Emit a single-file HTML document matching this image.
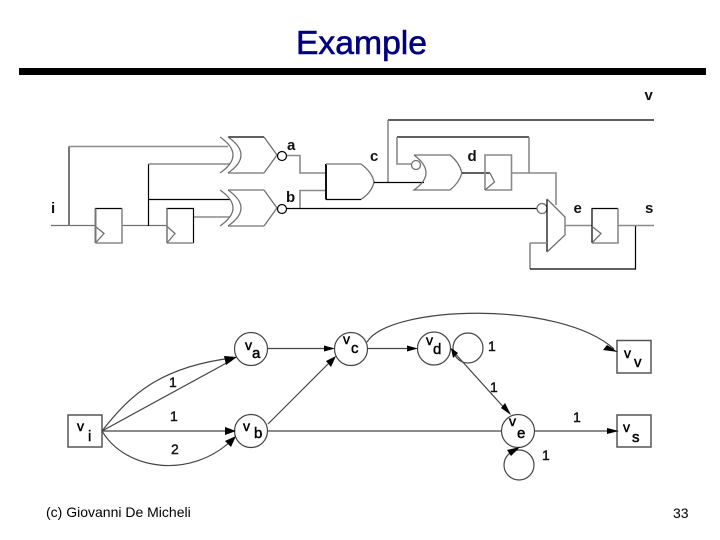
<!DOCTYPE html>
<html>
<head>
<meta charset="utf-8">
<style>
html,body{margin:0;padding:0;background:#fff;width:720px;height:540px;overflow:hidden}
svg{display:block}
text{font-family:"Liberation Sans",sans-serif}
.g{stroke:#8a8a8a;fill:none;stroke-width:1.6}
.t{stroke:#707070;fill:none;stroke-width:1.3}
.k{stroke:#000;fill:none;stroke-width:1.2}
.K{stroke:#777;fill:none;stroke-width:2}
.e{stroke:#444;fill:none;stroke-width:1.2}
.l{font-size:15px;font-weight:bold;fill:#111}
.n{font-size:14px;fill:#000;stroke:#000;stroke-width:.45px}
.s{font-size:15px;fill:#000;stroke:#000;stroke-width:.45px}
.w{font-size:14px;fill:#111;stroke:#111;stroke-width:.4px}
.h{fill:#000080;stroke:#000080;stroke-width:.6px}
</style>
</head>
<body>
<svg width="720" height="540" viewBox="0 0 720 540" xmlns="http://www.w3.org/2000/svg">
<text class="h" x="361.500" y="54" text-anchor="middle" font-size="33.700">Example</text>
<rect x="19" y="68" width="687" height="7" fill="#000"/>

<!-- circuit wires -->
<path class="t" d="M51 225.500H95M122 225.500H167"/>
<path class="K" d="M69 226V146.500"/>
<path class="g" d="M69 146.500H228"/>
<path class="k" d="M148.500 226V164"/>
<path class="g" d="M148.500 164H230"/>
<path class="k" d="M148.500 199.500H230"/>
<path class="g" d="M194 217H230"/>

<!-- flip flops -->
<path class="k" d="M95.500 243V208.500H122"/><path class="g" d="M122 208.500V243H95.500"/><path class="K" d="M95.500 208.500V243"/>
<path class="t" d="M95.500 226.500L104 233.500L95.500 243"/>
<path class="k" d="M167 243V208.500H193.500V243"/><path class="g" d="M167 243H193.500M167 208.500V243"/>
<path class="t" d="M167 226.500L175 233.500L167 243"/>

<!-- XNOR a -->
<path class="k" d="M228 137H264"/><path class="g" d="M228 173H264"/>
<path class="t" d="M264 137L277 155L264 173"/>
<path class="t" d="M220 137Q246 155 220 173M228 137Q254 155 228 173"/>
<circle class="k" cx="282" cy="156" r="4.500"/>
<path class="g" d="M287 155.500H300V173H325"/>
<!-- XNOR b -->
<path class="g" d="M228 190H264M228 226H264"/>
<path class="t" d="M264 190L277 208L264 226"/>
<path class="t" d="M220 190Q246 208 220 226M228 190Q254 208 228 226"/>
<circle class="k" cx="282" cy="209" r="4.500"/>
<path class="k" d="M287 208.500H537"/>
<path class="g" d="M300 208V190.500H325"/>
<!-- AND -->
<path class="K" style="stroke:#111" d="M326 164V199.500"/>
<path class="g" d="M326 164H361"/><path class="k" d="M326 199.500H361"/>
<path class="t" d="M361 164Q372 172 374 182Q372 192 361 199.500"/>

<!-- upper right -->
<path class="k" d="M388 120H654"/>
<path class="g" d="M388 120V182"/>
<path class="k" d="M374 182.500H424"/>
<path class="k" d="M397 137H529"/>
<path class="g" d="M397 137V164H411M529 137V173"/>
<circle class="t" cx="416" cy="165" r="4.500"/>
<path class="t" d="M414 155H450Q459 162 462 173Q459 183 450 190H414Q438 173 414 155"/>
<path class="k" d="M462 173H490"/>
<path class="g" d="M485 190V155H511.500V190H485"/>
<path class="t" d="M490 173L494.500 182L485 190"/>
<path class="g" d="M512 173H556V205"/>
<circle class="t" cx="542" cy="208.500" r="5"/>
<path class="k" d="M547 199V252"/>
<path class="t" d="M547 199L565 217V235L547 252"/>
<path class="g" d="M565 225.500H592M530 243H547M530 243V269"/>
<path class="k" d="M530 269H635.500V226"/>
<path class="k" d="M592 243V208.500H618"/><path class="g" d="M618 208.500V243H592"/>
<path class="t" d="M592 226.500L601 233.500L592 243"/>
<path class="g" d="M618 225.500H654"/>

<text class="l" x="287" y="150">a</text>
<text class="l" x="286" y="202">b</text>
<text class="l" x="51" y="213">i</text>
<text class="l" x="370" y="161">c</text>
<text class="l" x="467.500" y="161">d</text>
<text class="l" x="573.500" y="213">e</text>
<text class="l" x="645" y="213">s</text>
<text class="l" x="644.500" y="100">v</text>

<!-- graph nodes -->
<rect class="e" x="68" y="415" width="34" height="32" style="stroke:#555;stroke-width:1.5"/>
<rect class="e" x="617" y="340.500" width="34" height="32.500" style="stroke:#555;stroke-width:1.5"/>
<rect class="e" x="617" y="415" width="34" height="32" style="stroke:#555;stroke-width:1.5"/>
<circle class="e" cx="251" cy="349" r="16.500"/>
<circle class="e" cx="251" cy="431" r="16.500"/>
<circle class="e" cx="351" cy="349" r="16.500"/>
<circle class="e" cx="434" cy="348.500" r="16.500"/>
<circle class="e" cx="518" cy="431" r="16.500"/>
<circle class="e" cx="468" cy="348" r="15"/>
<circle class="e" cx="519" cy="465" r="15"/>

<!-- graph edges -->
<path class="e" d="M102 431C130 395 160 367 232 358"/>
<path class="e" d="M102 431L232 360"/>
<path class="e" d="M102 431H228"/>
<path class="e" d="M102 431C125 470 190 480 232 440"/>
<path class="e" d="M267 348.500H329"/>
<path class="e" d="M268 424L287 405L332 360"/>
<path class="e" d="M267 431H501"/>
<path class="e" d="M367 348.500H412"/>
<path class="e" d="M367 342C390 305 560 300 614 349"/>
<path class="e" d="M451 349L507 411"/>
<path class="e" d="M534 431H612"/>

<!-- arrowheads -->
<g fill="#000">
<polygon points="237,357 224,356 226,365"/>
<polygon points="236,431 225,427 225,435"/>
<polygon points="236,436 225,441 231,447"/>
<polygon points="335,348.500 324,345.500 324,351.500"/>
<polygon points="336,356 326,361 331,367"/>
<polygon points="418,348.500 407,345.500 407,351.500"/>
<polygon points="618,352 607,345 603,350"/>
<polygon points="511,415 501,408 505,403"/>
<polygon points="451,348 453,358 458,353"/>
<polygon points="619,431 607,428 607,434"/>
<polygon points="520,447 507,450 511,456"/>
</g>

<!-- graph labels -->
<text class="n" x="245" y="350">v</text><text class="s" x="252" y="358">a</text>
<text class="n" x="243" y="431">v</text><text class="s" x="254" y="438">b</text>
<text class="n" x="343" y="344">v</text><text class="s" x="351" y="353">c</text>
<text class="n" x="426" y="345">v</text><text class="s" x="433" y="354">d</text>
<text class="n" x="509" y="426">v</text><text class="s" x="517" y="438">e</text>
<text class="n" x="77" y="431">v</text><text class="s" x="88" y="441">i</text>
<text class="n" x="624" y="358">v</text><text class="s" x="634" y="367">v</text>
<text class="n" x="623" y="432">v</text><text class="s" x="632" y="442">s</text>

<text class="w" x="169" y="387">1</text>
<text class="w" x="170" y="421">1</text>
<text class="w" x="171" y="454">2</text>
<text class="w" x="488" y="351">1</text>
<text class="w" x="490" y="392">1</text>
<text class="w" x="573" y="422">1</text>
<text class="w" x="542" y="460">1</text>

<text x="46" y="517" font-size="14" fill="#000">(c) Giovanni De Micheli</text>
<text x="673" y="518" font-size="14" fill="#000">33</text>
</svg>
</body>
</html>
